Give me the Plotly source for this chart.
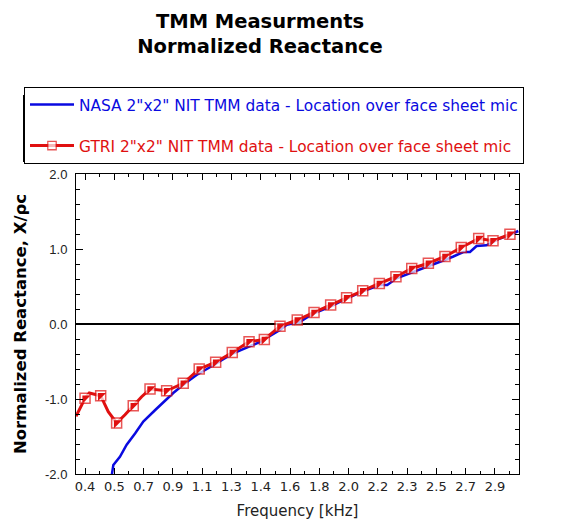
import plotly.graph_objects as go

# ---------------- data ----------------
nasa_freq = [0.580, 0.592, 0.632, 0.673, 0.724, 0.774, 0.845, 0.896, 0.956, 1.017,
             1.098, 1.200, 1.321, 1.484, 1.605, 1.646, 1.727, 1.808, 1.909, 2.010,
             2.112, 2.213, 2.257, 2.314, 2.395, 2.476, 2.578, 2.659, 2.720, 2.760,
             2.800, 2.860, 2.942, 3.003, 3.054]
nasa_react = [-2.05, -1.88, -1.77, -1.61, -1.46, -1.30, -1.15, -1.04, -0.92, -0.81,
              -0.68, -0.55, -0.39, -0.24, -0.08, -0.01, 0.03, 0.14, 0.23, 0.34,
              0.44, 0.52, 0.52, 0.61, 0.675, 0.74, 0.83, 0.90, 0.96, 0.96,
              1.04, 1.05, 1.14, 1.19, 1.24]

gtri_freq = [0.365, 0.420, 0.446, 0.515, 0.561, 0.612, 0.663, 0.713, 0.764, 0.815,
             0.916, 1.017, 1.114, 1.214, 1.315, 1.417, 1.510, 1.605, 1.710, 1.812,
             1.913, 2.010, 2.108, 2.209, 2.310, 2.406, 2.507, 2.608, 2.707, 2.813,
             2.900, 3.003]
gtri_react = [-1.23, -0.99, -0.92, -0.956, -1.17, -1.32, -1.21, -1.09, -0.97, -0.867,
              -0.89, -0.79, -0.60, -0.51, -0.38, -0.235, -0.205, -0.03, 0.053, 0.155,
              0.253, 0.35, 0.445, 0.54, 0.63, 0.74, 0.81, 0.90, 1.02, 1.14,
              1.11, 1.196]
gtri_marked = [False, True, False, True, False, True, False, True, False, True,
               True, True, True, True, True, True, True, True, True, True,
               True, True, True, True, True, True, True, True, True, True,
               True, True]

x_tick_labels = ["0.4", "0.5", "0.7", "0.9", "1.1", "1.3", "1.4", "1.6", "1.8",
                 "2.0", "2.2", "2.3", "2.5", "2.7", "2.9"]
x_tick_start = 0.42
x_tick_step = 0.178

y_tick_vals = [-2, -1, 0, 1, 2]
y_tick_labels = ["-2.0", "-1.0", "0.0", "1.0", "2.0"]

nasa_name = 'NASA 2"x2" NIT TMM data - Location over face sheet mic'
gtri_name = 'GTRI 2"x2" NIT TMM data - Location over face sheet mic'

# ---------------- derived ----------------
x_tick_vals = [x_tick_start + i * x_tick_step for i in range(len(x_tick_labels))]
x_minor_vals = [v + x_tick_step / 2 for v in x_tick_vals]

BLUE = "#0a0ae0"
RED = "#e01010"

OFF = 8  # page body margin
W, H = 566, 529
ML, MT = 76 - OFF, 174 - OFF
PR, PB = 519 - OFF, 474 - OFF
MR, MB = W - PR, H - PB
PW, PH = PR - ML, PB - MT


def px_x(p):
    return (p - OFF - ML) / PW


def px_y(p):
    return (PB - (p - OFF)) / PH


mk_size = [10 if m else 0 for m in gtri_marked]
mk_lw = [1.5 if m else 0 for m in gtri_marked]
tri_x = [f for f, m in zip(gtri_freq, gtri_marked) if m]
tri_y = [r for r, m in zip(gtri_react, gtri_marked) if m]

fig = go.Figure()
fig.add_trace(go.Scatter(
    x=nasa_freq, y=nasa_react, mode="lines",
    name=f"<span style='color:{BLUE}'>{nasa_name}</span>",
    line=dict(color=BLUE, width=2.5),
    legendgroup="nasa",
))
fig.add_trace(go.Scatter(
    x=gtri_freq, y=gtri_react, mode="lines+markers",
    name=f"<span style='color:{RED}'>{gtri_name}</span>",
    line=dict(color=RED, width=3),
    marker=dict(symbol="square", size=mk_size, color="white",
                line=dict(color=RED, width=mk_lw)),
    legendgroup="gtri",
))
fig.add_trace(go.Scatter(
    x=tri_x, y=tri_y, mode="markers",
    marker=dict(symbol="triangle-nw", size=9, color=RED),
    showlegend=False, legendgroup="gtri", hoverinfo="skip",
))

# legend shadow (shows just below the legend box)
fig.add_shape(type="rect", xref="paper", yref="paper",
              x0=px_x(23), x1=px_x(519), y0=px_y(162), y1=px_y(95),
              fillcolor="black", line=dict(width=0), layer="above")

fig.update_layout(
    width=W, height=H,
    margin=dict(l=ML, r=MR, t=MT, b=MB, autoexpand=False),
    paper_bgcolor="white", plot_bgcolor="white",
    title=dict(
        text="<b>TMM Measurments<br>Normalized Reactance</b>",
        x=(260 - OFF) / W, xref="container", xanchor="center",
        y=0.962, yref="container", yanchor="middle",
        font=dict(family="DejaVu Sans", size=19.5, color="black"),
    ),
    legend=dict(
        x=px_x(24), xanchor="left",
        y=px_y(87), yanchor="top",
        bgcolor="white", bordercolor="black", borderwidth=1,
        font=dict(family="DejaVu Sans", size=15.4),
        tracegroupgap=18, itemwidth=44,
    ),
    showlegend=True,
    xaxis=dict(
        range=[0.365, 3.058],
        tickvals=x_tick_vals, ticktext=x_tick_labels,
        ticks="inside", ticklen=6, tickwidth=1, tickcolor="black",
        showline=True, linecolor="black", linewidth=1, mirror="allticks",
        minor=dict(tickvals=x_minor_vals, ticks="inside", ticklen=3, tickcolor="black"),
        showgrid=False, zeroline=False,
        tickfont=dict(family="DejaVu Sans", size=13, color="#222"),
        title=dict(text="Frequency [kHz]", standoff=12,
                   font=dict(family="DejaVu Sans", size=15, color="#222")),
    ),
    yaxis=dict(
        range=[-2, 2],
        tickvals=y_tick_vals, ticktext=y_tick_labels,
        ticks="inside", ticklen=7, tickwidth=1, tickcolor="black",
        showline=True, linecolor="black", linewidth=1, mirror="allticks",
        minor=dict(dtick=0.2, ticks="inside", ticklen=4, tickcolor="black"),
        showgrid=False, zeroline=True, zerolinecolor="black", zerolinewidth=2,
        ticklabelstandoff=5,
        tickfont=dict(family="Liberation Sans", size=13, color="#222"),
        title=dict(text="<b>Normalized Reactance, X/ρc</b>", standoff=14,
                   font=dict(family="DejaVu Sans", size=16.5, color="black")),
    ),
)

fig.write_html("out.html")
